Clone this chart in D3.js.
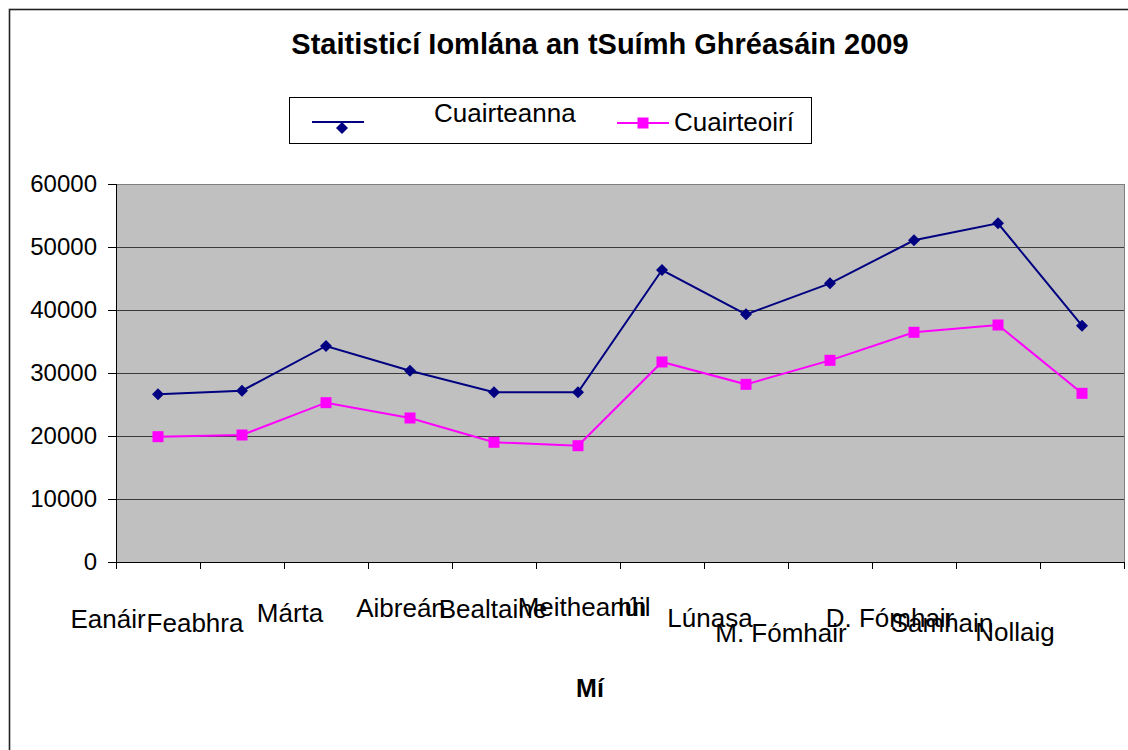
<!DOCTYPE html>
<html lang="ga">
<head>
<meta charset="UTF-8">
<script src="https://d3js.org/d3.v7.min.js"></script>
<style>
body { margin: 0; background: #fff; }
svg { display: block; font-family: "Liberation Sans", Arial, sans-serif; }
.grid line { stroke: #3a3a3a; shape-rendering: crispEdges; }
.axis path, .axis line { stroke: #000; shape-rendering: crispEdges; }
.axis text { font-size: 24px; fill: #000; }
.xlabel { font-size: 26px; fill: #000; }
.legend text { font-size: 26px; fill: #000; }
</style>
<title>Staitisticí Iomlána an tSuímh Ghréasáin 2009</title>
</head>
<body>
<svg id="chart"></svg>
<script>
// data
const months = ["Eanáir", "Feabhra", "Márta", "Aibreán", "Bealtaine", "Meitheamh",
  "Iúil", "Lúnasa", "M. Fómhair", "D. Fómhair", "Samhain", "Nollaig"];
const cuairteanna = [26620, 27190, 34290, 30370, 26930, 26930,
  46350, 39310, 44230, 51060, 53760, 37510];
const cuairteoiri = [19890, 20160, 25290, 22860, 19000, 18460,
  31750, 28200, 32010, 36460, 37620, 26770];
const yTicks = [0, 10000, 20000, 30000, 40000, 50000, 60000];

// Excel staggers the category labels; offsets (dx from band centre, baseline y)
const labelNudge = [[-50, 628], [-47, 632], [-36, 622], [-9, 617], [-1, 618], [4, 616],
  [-28, 616], [-36, 627], [-49, 642], [-24, 627], [-56, 632], [-67, 641]];

const W = 1128, H = 750;
const plot = { left: 116, right: 1124, top: 184, bottom: 562 };

const svg = d3.select('#chart').attr('width', W).attr('height', H);

// outer chart frame
svg.append('rect')
  .attr('x', 9.5).attr('y', 9.5)
  .attr('width', W).attr('height', H)
  .attr('fill', '#fff')
  .attr('stroke', '#222').attr('stroke-width', 1.6);

let x = d3.scaleBand().domain(months).range([plot.left, plot.right]);
let xEdge = d3.scaleLinear().domain([0, months.length]).range([plot.left, plot.right]);
let y = d3.scaleLinear().domain([0, 60000]).range([plot.bottom, plot.top]);

// plot background
svg.append('rect')
  .attr('x', plot.left).attr('y', plot.top)
  .attr('width', plot.right - plot.left).attr('height', plot.bottom - plot.top)
  .attr('fill', '#c0c0c0')
  .attr('stroke', '#808080').attr('stroke-width', 1)
  .attr('shape-rendering', 'crispEdges');

// gridlines
svg.append('g')
  .attr('class', 'grid')
  .attr('transform', 'translate(' + plot.left + ',0)')
  .call(d3.axisLeft(y).tickValues(yTicks.slice(1, -1)).tickSize(-(plot.right - plot.left)).tickFormat(''))
  .call(g => g.select('.domain').remove());

// y axis
svg.append('g')
  .attr('class', 'axis')
  .attr('transform', 'translate(' + plot.left + ',0)')
  .call(d3.axisLeft(y).tickValues(yTicks).tickSize(8).tickSizeOuter(0).tickPadding(11).tickFormat(d3.format('d')))
  .call(g => g.select('.domain').attr('d', 'M0,' + plot.top + 'V' + (plot.bottom + 7)));

// x axis, ticks between categories
svg.append('g')
  .attr('class', 'axis')
  .attr('transform', 'translate(0,' + plot.bottom + ')')
  .call(d3.axisBottom(xEdge).tickValues(d3.range(1, months.length + 1)).tickSize(7).tickSizeOuter(0).tickFormat(''))
  .call(g => g.select('.domain').attr('d', 'M' + plot.left + ',0H' + plot.right));

// category labels
svg.selectAll('.xlabel')
  .data(months)
  .enter().append('text')
  .attr('class', 'xlabel')
  .attr('text-anchor', 'middle')
  .attr('x', (d, i) => x(d) + x.bandwidth() / 2 + labelNudge[i][0])
  .attr('y', (d, i) => labelNudge[i][1])
  .text(d => d);

let cx = d => x(d) + x.bandwidth() / 2;
let line = d3.line().x(d => cx(d[0])).y(d => y(d[1]));

const s1 = months.map((m, i) => [m, cuairteanna[i]]);
const s2 = months.map((m, i) => [m, cuairteoiri[i]]);

// Cuairteoirí
svg.append('path').datum(s2)
  .attr('d', line).attr('fill', 'none')
  .attr('stroke', '#ff00ff').attr('stroke-width', 2);
svg.selectAll('.sq').data(s2).enter().append('rect')
  .attr('class', 'sq')
  .attr('x', d => cx(d[0]) - 5.5).attr('y', d => y(d[1]) - 5.5)
  .attr('width', 11).attr('height', 11)
  .attr('fill', '#ff00ff');

// Cuairteanna
svg.append('path').datum(s1)
  .attr('d', line).attr('fill', 'none')
  .attr('stroke', '#000080').attr('stroke-width', 2);
svg.selectAll('.dia').data(s1).enter().append('path')
  .attr('class', 'dia')
  .attr('transform', d => 'translate(' + cx(d[0]) + ',' + y(d[1]) + ')')
  .attr('d', 'M0,-6L6,0L0,6L-6,0Z')
  .attr('fill', '#000080');

// title
svg.append('text')
  .attr('x', 600).attr('y', 54)
  .attr('text-anchor', 'middle')
  .attr('font-size', 29).attr('font-weight', 'bold')
  .text('Staitisticí Iomlána an tSuímh Ghréasáin 2009');

// axis title
svg.append('text')
  .attr('x', 590).attr('y', 697)
  .attr('text-anchor', 'middle')
  .attr('font-size', 25).attr('font-weight', 'bold')
  .text('Mí');

// legend
let legend = svg.append('g').attr('class', 'legend');
legend.append('rect')
  .attr('x', 289.5).attr('y', 97.5).attr('width', 522).attr('height', 46)
  .attr('fill', '#fff').attr('stroke', '#000').attr('stroke-width', 1);
legend.append('line')
  .attr('x1', 312).attr('x2', 364).attr('y1', 122).attr('y2', 122)
  .attr('stroke', '#000080').attr('stroke-width', 2);
legend.append('path')
  .attr('transform', 'translate(342,128)')
  .attr('d', 'M0,-6L6,0L0,6L-6,0Z').attr('fill', '#000080');
legend.append('text').attr('x', 434).attr('y', 122).text('Cuairteanna');
legend.append('line')
  .attr('x1', 617).attr('x2', 669).attr('y1', 123).attr('y2', 123)
  .attr('stroke', '#ff00ff').attr('stroke-width', 2);
legend.append('rect')
  .attr('x', 637.5).attr('y', 117.5).attr('width', 11).attr('height', 11)
  .attr('fill', '#ff00ff');
legend.append('text').attr('x', 674).attr('y', 131).text('Cuairteoirí');
</script>
</body>
</html>
